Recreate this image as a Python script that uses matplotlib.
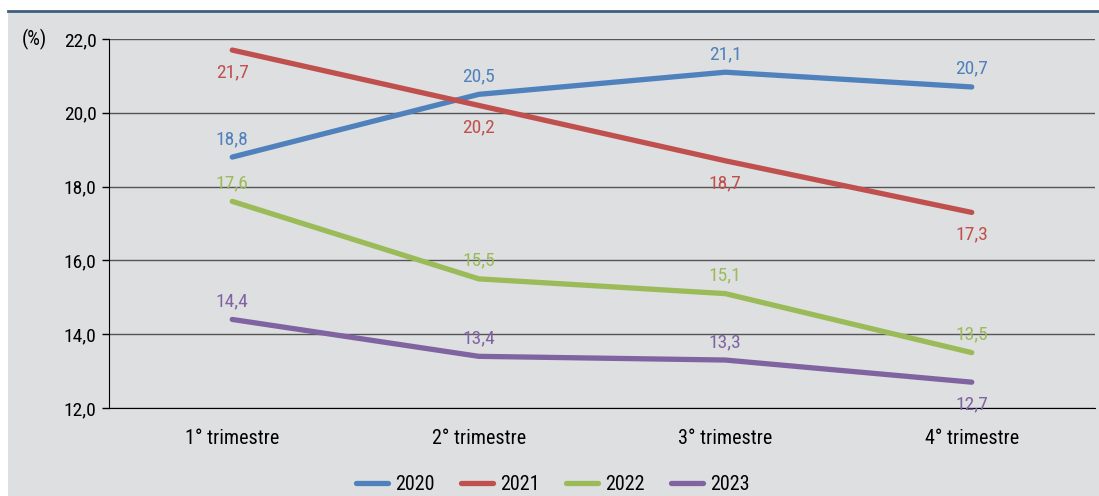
import matplotlib.pyplot as plt
from matplotlib import font_manager
from matplotlib.patches import Rectangle
from matplotlib.lines import Line2D

installed = {f.name for f in font_manager.fontManager.ttflist}
narrow = [n for n in ['Roboto Condensed', 'Archivo Narrow', 'Liberation Sans Narrow']
          if n in installed]
plt.rcParams['font.family'] = narrow[:1] + ['DejaVu Sans']

QUARTERS = ['1° trimestre', '2° trimestre', '3° trimestre', '4° trimestre']
YEARS = ['2020', '2021', '2022', '2023']
V2020 = [18.8, 20.5, 21.1, 20.7]
V2021 = [21.7, 20.2, 18.7, 17.3]
V2022 = [17.6, 15.5, 15.1, 13.5]
V2023 = [14.4, 13.4, 13.3, 12.7]

COLORS = ['#4f81bd', '#c0504d', '#9bbb59', '#8064a2']
# +1 label above the point, -1 below
LABEL_SIDE = [
    [1, 1, 1, 1],
    [-1, -1, -1, -1],
    [1, 1, 1, 1],
    [1, 1, 1, -1],
]

BG = '#dedfe1'

fig = plt.figure(figsize=(10.99, 4.96), dpi=100)
fig.patch.set_facecolor('white')
fig.patches.append(Rectangle((8 / 1099, 0), 1 - 8 / 1099, 1 - 11 / 496,
                             transform=fig.transFigure, facecolor=BG,
                             edgecolor='none', zorder=-10))
fig.add_artist(Line2D([8 / 1099, 1], [1 - 10.5 / 496] * 2, transform=fig.transFigure,
                      color='#3f5f80', lw=2, zorder=-9))

ax = fig.add_axes([109 / 1099, 1 - 408 / 496, 986 / 1099, 369 / 496])
ax.set_facecolor('none')

x = list(range(len(QUARTERS)))
series = [V2020, V2021, V2022, V2023]
for vals, year, col, sides in zip(series, YEARS, COLORS, LABEL_SIDE):
    ax.plot(x, vals, color=col, lw=3.8, solid_capstyle='round', label=year, zorder=3)
    for xi, v, s in zip(x, vals, sides):
        ax.annotate(f'{v:.1f}'.replace('.', ','), (xi, v), xytext=(0, 14.5 * s),
                    textcoords='offset points', ha='center', va='center_baseline',
                    color=col, fontsize=14, zorder=4)

ax.set_xlim(-0.5, 3.5)
ax.set_ylim(12, 22)
ax.set_yticks([12, 14, 16, 18, 20, 22])
ax.set_yticklabels([f'{t:.1f}'.replace('.', ',') for t in [12, 14, 16, 18, 20, 22]])
ax.set_xticks(x)
ax.set_xticklabels(QUARTERS)
ax.grid(axis='y', color='#555555', lw=1)
ax.set_axisbelow(True)
for s in ['top', 'right']:
    ax.spines[s].set_visible(False)
ax.spines['left'].set_color('black')
ax.spines['bottom'].set_color('black')
ax.tick_params(axis='y', direction='out', length=5, width=1, labelsize=14, pad=4)
ax.tick_params(axis='x', length=0, labelsize=14.5, pad=15)

fig.text(22 / 1099, 1 - 39 / 496, '(%)', ha='left', va='center', fontsize=14.5)

handles = [Line2D([], [], color=c, lw=3.8, solid_capstyle='round') for c in COLORS]
fig.legend(handles, YEARS, loc='center', bbox_to_anchor=(553 / 1099, 1 - 485 / 496),
           ncol=4, frameon=False, fontsize=14.5, handlelength=1.6, columnspacing=1.3,
           handletextpad=0.35)

fig.savefig('out.png', dpi=100, facecolor=fig.get_facecolor())
